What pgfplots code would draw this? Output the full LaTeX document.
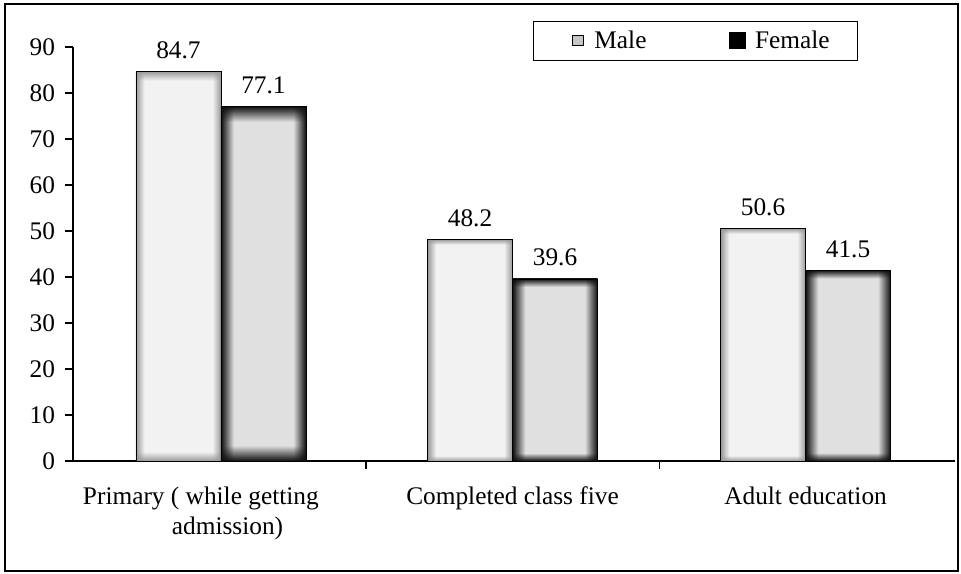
\documentclass[border=0pt]{standalone}
\usepackage{fontspec}
\setmainfont{Liberation Serif}
\usepackage{pgfplots}
\pgfplotsset{compat=1.18}

% bars: light centre, darker band along the edges (visible part is -25bp..25bp)
\pgfdeclarefunctionalshading{maleshade}{\pgfpoint{-50bp}{-50bp}}{\pgfpoint{50bp}{50bp}}{}{
  abs 25 exch sub 1.2 div dup 1 gt {pop 1} if dup 0 lt {pop 0} if
  exch abs 25 exch sub 5 div dup 1 gt {pop 1} if dup 0 lt {pop 0} if
  mul 0.35 mul 0.60 add dup dup}
\pgfdeclarefunctionalshading{femaleshade}{\pgfpoint{-50bp}{-50bp}}{\pgfpoint{50bp}{50bp}}{}{
  abs 25 exch sub 2.2 div dup 1 gt {pop 1} if dup 0 lt {pop 0} if
  exch abs 25 exch sub 7.5 div dup 1 gt {pop 1} if dup 0 lt {pop 0} if
  mul 0.82 mul 0.06 add dup dup}

\newcommand{\lblfont}{\fontsize{19}{22.5}\selectfont}

\begin{document}
\begin{tikzpicture}
\begin{axis}[
  scale only axis,
  width=661.5pt, height=310.5pt,
  xmin=-0.5, xmax=2.51,
  ymin=0, ymax=90,
  axis lines=left,
  axis line style={-, black, line width=0.8pt},
  ytick={0,10,...,90},
  xtick={0.5,1.5},
  xticklabels={},
  extra x ticks={0,1,2},
  extra x tick labels={{Primary ( while getting\hspace*{28pt}\\\hspace*{12pt}admission)},{Completed class five},{Adult education}},
  extra x tick style={major tick length=0pt},
  tick align=outside,
  major tick length=6pt,
  tick style={black, line width=0.8pt},
  /pgf/number format/assume math mode=true,
  tick label style={font=\lblfont},
  xticklabel style={align=center, yshift=-16pt},
  yticklabel style={xshift=-4pt},
  legend style={at={(0.566,1.0157)}, anchor=west, draw=none, fill=none,
    inner sep=0pt, font=\lblfont},
  legend columns=2,
  legend cell align=left,
  /tikz/every even column/.append style={column sep=60pt},
  nodes near coords style={font=\lblfont, yshift=6pt, text=black},
]
\addlegendimage{legend image code/.code={\draw[draw=black, fill=gray!45, line width=0.6pt] (0pt,-4pt) rectangle (8pt,4pt); \path (14pt,0pt);}}
\addlegendentry{Male}
\addlegendimage{legend image code/.code={\fill[black] (0pt,-6pt) rectangle (12pt,6pt); \path (17pt,0pt);}}
\addlegendentry{Female}

\addplot[ybar, bar width=0.29, bar shift=0pt, draw=black, shade, shading=maleshade, nodes near coords, forget plot] coordinates {(-0.14,84.7)};
\addplot[ybar, bar width=0.29, bar shift=0pt, draw=black, shade, shading=femaleshade, nodes near coords, forget plot] coordinates {(0.15,77.1)};
\addplot[ybar, bar width=0.29, bar shift=0pt, draw=black, shade, shading=maleshade, nodes near coords, forget plot] coordinates {(0.855,48.2)};
\addplot[ybar, bar width=0.29, bar shift=0pt, draw=black, shade, shading=femaleshade, nodes near coords, forget plot] coordinates {(1.145,39.6)};
\addplot[ybar, bar width=0.29, bar shift=0pt, draw=black, shade, shading=maleshade, nodes near coords, forget plot] coordinates {(1.855,50.6)};
\addplot[ybar, bar width=0.29, bar shift=0pt, draw=black, shade, shading=femaleshade, nodes near coords, forget plot] coordinates {(2.145,41.5)};
\end{axis}
\draw[line width=0.6pt] (345pt,300.75pt) rectangle (588pt,330pt);
\draw[line width=1.8pt] (-51pt,-82.5pt) rectangle (663.75pt,342.75pt);
\pgfresetboundingbox
\path[use as bounding box] (-54.75pt,-84.75pt) rectangle (666pt,345.75pt);
\end{tikzpicture}
\end{document}
